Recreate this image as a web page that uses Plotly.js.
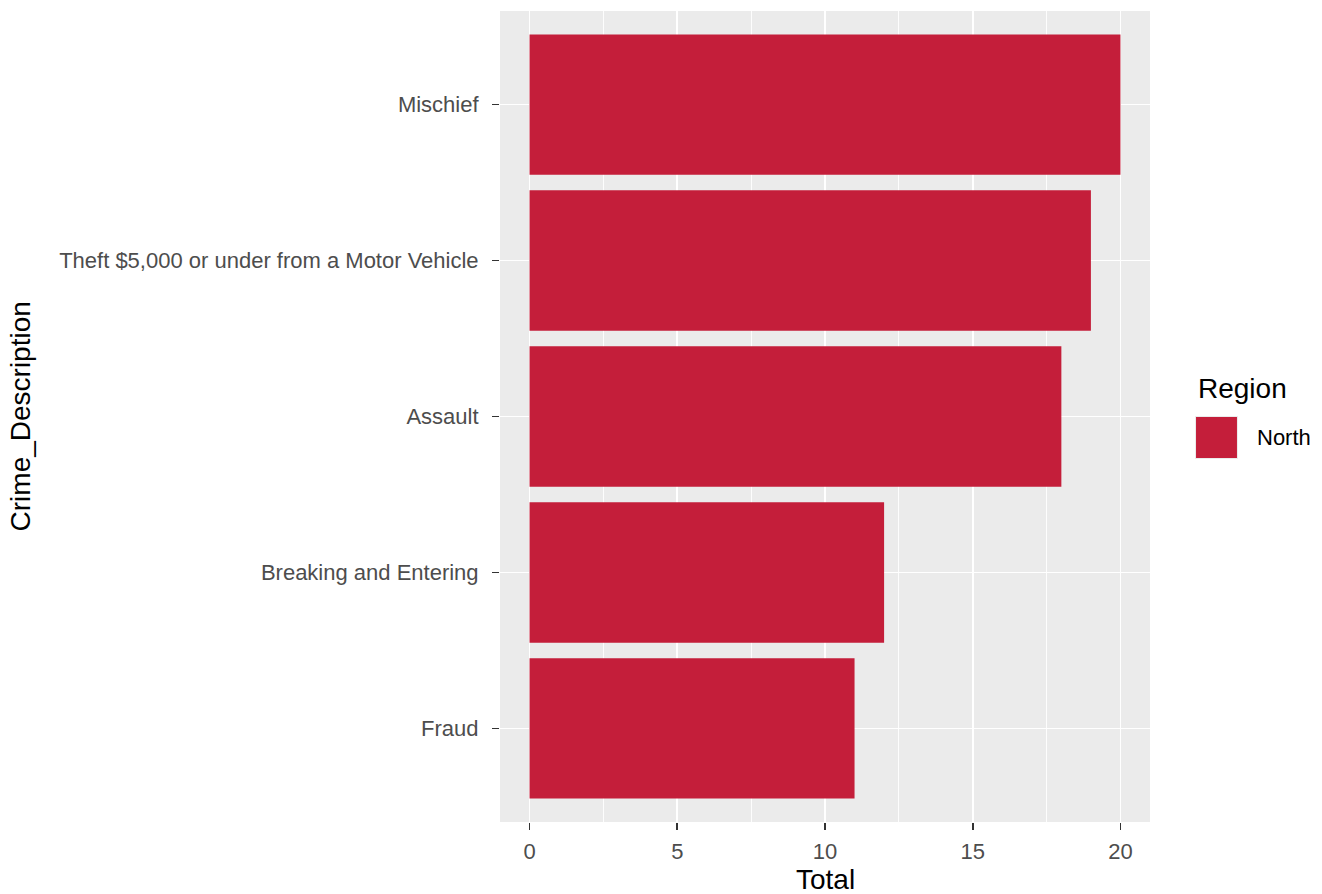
<!DOCTYPE html>
<html>
<head>
<meta charset="utf-8">
<script src="https://cdn.plot.ly/plotly-3.0.1.min.js"></script>
<style>html,body{margin:0;padding:0;background:#fff;}#chart{width:1322px;height:894px;}</style>
</head>
<body>
<div id="chart"></div>
<script>
// Data (bottom to top order)
const categories = ["Fraud", "Breaking and Entering", "Assault", "Theft $5,000 or under from a Motor Vehicle", "Mischief"];
const totals = [11, 12, 18, 19, 20];
const seriesName = "North";
const xTicks = [0, 5, 10, 15, 20];

const barColor = "#C41E3A";
const font = "Liberation Sans, Arial, sans-serif";

const trace = {
  type: "bar",
  orientation: "h",
  x: totals,
  y: categories,
  name: seriesName,
  marker: {color: barColor, line: {width: 0}},
  width: 0.9,
  showlegend: false,
  hoverinfo: "x+y"
};

const layout = {
  width: 1322, height: 894,
  margin: {l: 500, r: 172, t: 11, b: 72},
  paper_bgcolor: "#ffffff",
  plot_bgcolor: "#EBEBEB",
  font: {family: font},
  xaxis: {
    range: [-1, 21],
    tickvals: xTicks,
    ticktext: xTicks.map(String),
    ticks: "outside", ticklen: 7, tickwidth: 1.8, tickcolor: "#333333",
    ticklabelstandoff: 3,
    tickfont: {size: 22, color: "#4D4D4D", family: font},
    showgrid: true, gridcolor: "#ffffff", gridwidth: 1.8,
    minor: {dtick: 2.5, tick0: 0, showgrid: true, gridcolor: "#ffffff", gridwidth: 0.9, ticks: ""},
    zeroline: false, showline: false, fixedrange: true
  },
  yaxis: {
    type: "category",
    categoryorder: "array", categoryarray: categories,
    range: [-0.6, 4.6],
    ticks: "outside", ticklen: 7, tickwidth: 1.8, tickcolor: "#333333",
    ticklabelstandoff: 9,
    tickfont: {size: 22, color: "#4D4D4D", family: font},
    showgrid: true, gridcolor: "#ffffff", gridwidth: 1.8,
    zeroline: false, showline: false, fixedrange: true
  },
  annotations: [
    {text: "Total", xref: "paper", yref: "paper", x: 0.5, y: -0.0715, xanchor: "center", yanchor: "middle",
     showarrow: false, font: {size: 28, color: "#000000", family: font}},
    {text: "Crime_Description", xref: "paper", yref: "paper", x: -0.737, y: 0.5, xanchor: "center", yanchor: "middle",
     textangle: -90, showarrow: false, font: {size: 28, color: "#000000", family: font}},
    {text: "Region", xref: "paper", yref: "paper", x: 1.0708, y: 0.535, xanchor: "left", yanchor: "middle",
     showarrow: false, font: {size: 28, color: "#000000", family: font}},
    {text: seriesName, xref: "paper", yref: "paper", x: 1.1615, y: 0.4735, xanchor: "left", yanchor: "middle",
     showarrow: false, font: {size: 22, color: "#000000", family: font}}
  ],
  shapes: [
    {type: "rect", xref: "paper", yref: "paper", x0: 1.0692, x1: 1.1354, y0: 0.4476, y1: 0.5006,
     fillcolor: "#EBEBEB", line: {width: 0}, layer: "above"},
    {type: "rect", xref: "paper", yref: "paper", x0: 1.0708, x1: 1.1338, y0: 0.4488, y1: 0.4994,
     fillcolor: barColor, line: {width: 0}, layer: "above"}
  ]
};

Plotly.newPlot("chart", [trace], layout, {displayModeBar: false, staticPlot: true});
</script>
</body>
</html>
